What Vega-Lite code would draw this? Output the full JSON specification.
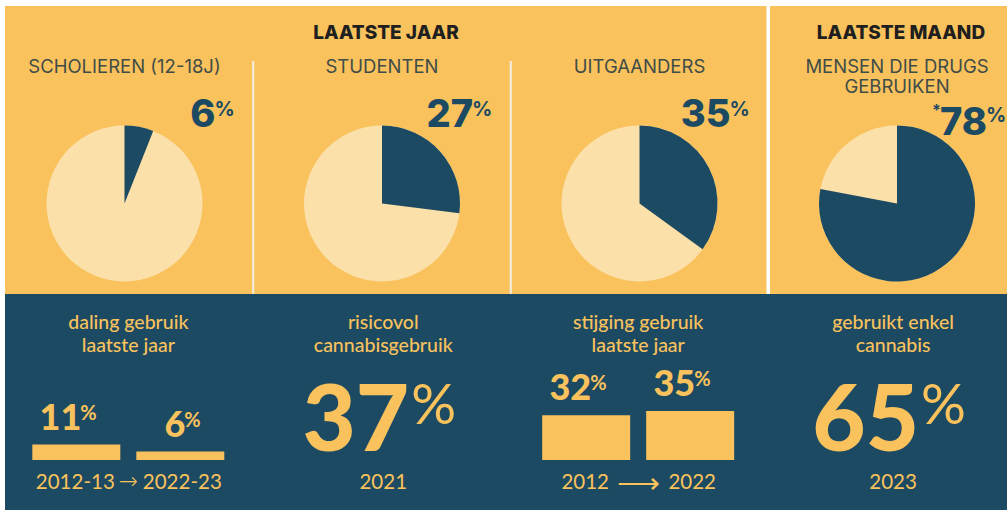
{
  "$schema": "https://vega.github.io/schema/vega-lite/v6.json",
  "background": "#FFFFFF",
  "padding": {"left": 5, "top": 4, "right": 0, "bottom": 0},
  "spacing": 0,
  "bounds": "flush",
  "config": {"view": {"stroke": null}},
  "datasets": {
    "pies": [
      {"panel": 1, "group": "SCHOLIEREN (12-18J)", "pct": 6},
      {"panel": 2, "group": "STUDENTEN", "pct": 27},
      {"panel": 3, "group": "UITGAANDERS", "pct": 35},
      {"panel": 4, "group": "MENSEN DIE DRUGS\nGEBRUIKEN", "pct": 78, "note": "*"}
    ],
    "headers": [
      {"panel": 2, "label": "LAATSTE JAAR"},
      {"panel": 4, "label": "LAATSTE MAAND"}
    ],
    "captions": [
      {"panel": 1, "caption": "daling gebruik\nlaatste jaar"},
      {"panel": 2, "caption": "risicovol\ncannabisgebruik"},
      {"panel": 3, "caption": "stijging gebruik\nlaatste jaar"},
      {"panel": 4, "caption": "gebruikt enkel\ncannabis"}
    ],
    "trends": [
      {"panel": 1, "order": 1, "year": "2012-13", "pct": 11},
      {"panel": 1, "order": 2, "year": "2022-23", "pct": 6},
      {"panel": 3, "order": 1, "year": "2012", "pct": 32},
      {"panel": 3, "order": 2, "year": "2022", "pct": 35}
    ],
    "arrows": [
      {"panel": 1, "arrow": "→"},
      {"panel": 3, "arrow": "⟶"}
    ],
    "big": [
      {"panel": 2, "pct": 37, "year": "2021"},
      {"panel": 4, "pct": 65, "year": "2023"}
    ]
  },
  "vconcat": [
    {
      "width": 1002,
      "height": 288,
      "view": {"fill": "#F9C25C", "stroke": null},
      "layer": [
        {
          "data": {"name": "pies"},
          "mark": {"type": "arc", "outerRadius": 78, "theta": 0, "theta2": 6.2832, "fill": "#FCE0A9", "y": 197.5},
          "encoding": {
            "x": {"field": "panel", "type": "quantitative", "stack": null, "scale": {"domain": [0.53592, 4.42718], "nice": false, "zero": false}, "axis": null}
          }
        },
        {
          "data": {"name": "pies"},
          "mark": {"type": "arc", "outerRadius": 78, "fill": "#1C4A62", "y": 197.5},
          "encoding": {
            "x": {"field": "panel", "type": "quantitative", "stack": null},
            "theta": {"field": "pct", "type": "quantitative", "stack": null, "scale": {"domain": [0, 100], "range": [0, 6.2832]}},
            "theta2": {"datum": 0}
          }
        },
        {
          "data": {"name": "pies"},
          "transform": [{"filter": "datum.panel < 4"}],
          "mark": {"type": "text", "align": "right", "baseline": "alphabetic", "dx": 91, "y": 121, "font": "Inter", "fontSize": 38, "fontWeight": 800, "fill": "#1C4A62"},
          "encoding": {"x": {"field": "panel", "type": "quantitative"}, "text": {"field": "pct", "type": "quantitative"}}
        },
        {
          "data": {"name": "pies"},
          "transform": [{"filter": "datum.panel == 4"}],
          "mark": {"type": "text", "align": "right", "baseline": "alphabetic", "dx": 90, "y": 129, "font": "Inter", "fontSize": 38, "fontWeight": 800, "fill": "#1C4A62"},
          "encoding": {"x": {"field": "panel", "type": "quantitative"}, "text": {"field": "pct", "type": "quantitative"}}
        },
        {
          "data": {"name": "pies"},
          "transform": [{"filter": "datum.panel < 4"}],
          "mark": {"type": "text", "align": "left", "baseline": "alphabetic", "dx": 90, "y": 110, "font": "Inter", "fontSize": 20, "fontWeight": 700, "fill": "#1C4A62"},
          "encoding": {"x": {"field": "panel", "type": "quantitative"}, "text": {"value": "%"}}
        },
        {
          "data": {"name": "pies"},
          "transform": [{"filter": "datum.panel == 4"}],
          "mark": {"type": "text", "align": "left", "baseline": "alphabetic", "dx": 89, "y": 116, "font": "Inter", "fontSize": 20, "fontWeight": 700, "fill": "#1C4A62"},
          "encoding": {"x": {"field": "panel", "type": "quantitative"}, "text": {"value": "%"}}
        },
        {
          "data": {"name": "pies"},
          "transform": [{"filter": "datum.note"}],
          "mark": {"type": "text", "align": "right", "baseline": "alphabetic", "dx": 44, "y": 110, "font": "Inter", "fontSize": 16, "fontWeight": 700, "fill": "#1C4A62"},
          "encoding": {"x": {"field": "panel", "type": "quantitative"}, "text": {"field": "note", "type": "nominal"}}
        },
        {
          "data": {"name": "headers"},
          "mark": {"type": "text", "align": "center", "baseline": "alphabetic", "dx": 4, "y": 33, "font": "Inter", "fontSize": 19, "fontWeight": 800, "fill": "#1F1F1F"},
          "encoding": {"x": {"field": "panel", "type": "quantitative"}, "text": {"field": "label", "type": "nominal"}}
        },
        {
          "data": {"name": "pies"},
          "mark": {"type": "text", "align": "center", "baseline": "alphabetic", "y": 66.7, "lineBreak": "\n", "lineHeight": 20, "font": "Inter", "fontSize": 18.5, "fontWeight": 400, "fill": "#3F4C48"},
          "encoding": {"x": {"field": "panel", "type": "quantitative"}, "text": {"field": "group", "type": "nominal"}}
        },
        {
          "data": {"values": [{}]},
          "mark": {"type": "rule", "stroke": "#F3EEE4", "strokeWidth": 2},
          "encoding": {"x": {"datum": 1.5, "type": "quantitative"}, "y": {"value": 55}, "y2": {"value": 288}}
        },
        {
          "data": {"values": [{}]},
          "mark": {"type": "rule", "stroke": "#F3EEE4", "strokeWidth": 2},
          "encoding": {"x": {"datum": 2.5, "type": "quantitative"}, "y": {"value": 55}, "y2": {"value": 288}}
        },
        {
          "data": {"values": [{}]},
          "mark": {"type": "rule", "stroke": "#FFFFFF", "strokeWidth": 3.5},
          "encoding": {"x": {"datum": 3.5, "type": "quantitative"}, "y": {"value": 0}, "y2": {"value": 288}}
        }
      ]
    },
    {
      "width": 1002,
      "height": 218,
      "view": {"fill": "#1C4A62", "stroke": null},
      "encoding": {
        "x": {"field": "panel", "type": "quantitative", "scale": {"domain": [0.53592, 4.42718], "nice": false, "zero": false}, "axis": null}
      },
      "layer": [
        {
          "data": {"name": "captions"},
          "mark": {"type": "text", "align": "center", "baseline": "alphabetic", "y": 35, "lineBreak": "\n", "lineHeight": 23, "font": "Lato", "fontSize": 19.5, "fontWeight": 500, "fill": "#F9C25C"},
          "encoding": {"text": {"field": "caption", "type": "nominal"}}
        },
        {
          "data": {"name": "trends"},
          "transform": [{"filter": "datum.order == 1"}],
          "mark": {"type": "bar", "width": 88, "xOffset": -52, "fill": "#F9C25C"},
          "encoding": {
            "y": {"field": "pct", "type": "quantitative", "scale": {"domain": [-37.143, 118.571], "nice": false, "zero": false}, "axis": null},
            "y2": {"datum": 0}
          }
        },
        {
          "data": {"name": "trends"},
          "transform": [{"filter": "datum.order == 2"}],
          "mark": {"type": "bar", "width": 88, "xOffset": 52, "fill": "#F9C25C"},
          "encoding": {
            "y": {"field": "pct", "type": "quantitative"},
            "y2": {"datum": 0}
          }
        },
        {
          "data": {"name": "trends"},
          "transform": [{"filter": "datum.order == 1"}],
          "mark": {"type": "text", "align": "right", "baseline": "alphabetic", "dx": -47, "dy": -15, "font": "Lato", "fontSize": 36, "fontWeight": 900, "fill": "#F9C25C"},
          "encoding": {"y": {"field": "pct", "type": "quantitative"}, "text": {"field": "pct", "type": "quantitative"}}
        },
        {
          "data": {"name": "trends"},
          "transform": [{"filter": "datum.order == 2"}],
          "mark": {"type": "text", "align": "right", "baseline": "alphabetic", "dx": 57, "dy": -15, "font": "Lato", "fontSize": 36, "fontWeight": 900, "fill": "#F9C25C"},
          "encoding": {"y": {"field": "pct", "type": "quantitative"}, "text": {"field": "pct", "type": "quantitative"}}
        },
        {
          "data": {"name": "trends"},
          "transform": [{"filter": "datum.order == 1"}],
          "mark": {"type": "text", "align": "left", "baseline": "alphabetic", "dx": -48, "dy": -25, "font": "Lato", "fontSize": 20, "fontWeight": 700, "fill": "#F9C25C"},
          "encoding": {"y": {"field": "pct", "type": "quantitative"}, "text": {"value": "%"}}
        },
        {
          "data": {"name": "trends"},
          "transform": [{"filter": "datum.order == 2"}],
          "mark": {"type": "text", "align": "left", "baseline": "alphabetic", "dx": 56, "dy": -25, "font": "Lato", "fontSize": 20, "fontWeight": 700, "fill": "#F9C25C"},
          "encoding": {"y": {"field": "pct", "type": "quantitative"}, "text": {"value": "%"}}
        },
        {
          "data": {"name": "trends"},
          "transform": [{"filter": "datum.order == 1"}],
          "mark": {"type": "text", "align": "center", "baseline": "alphabetic", "dx": -53, "dy": 29, "font": "Lato", "fontSize": 20.5, "fontWeight": 400, "fill": "#F9C25C"},
          "encoding": {"y": {"datum": 0}, "text": {"field": "year", "type": "nominal"}}
        },
        {
          "data": {"name": "trends"},
          "transform": [{"filter": "datum.order == 2"}],
          "mark": {"type": "text", "align": "center", "baseline": "alphabetic", "dx": 54, "dy": 29, "font": "Lato", "fontSize": 20.5, "fontWeight": 400, "fill": "#F9C25C"},
          "encoding": {"y": {"datum": 0}, "text": {"field": "year", "type": "nominal"}}
        },
        {
          "data": {"name": "arrows"},
          "transform": [{"filter": "datum.panel == 1"}],
          "mark": {"type": "text", "align": "center", "baseline": "alphabetic", "dy": 29, "font": "DejaVu Sans", "fontSize": 23, "fontWeight": 300, "fill": "#F9C25C"},
          "encoding": {"y": {"datum": 0}, "text": {"field": "arrow", "type": "nominal"}}
        },
        {
          "data": {"name": "arrows"},
          "transform": [{"filter": "datum.panel == 3"}],
          "mark": {"type": "text", "align": "center", "baseline": "alphabetic", "dy": 33, "font": "DejaVu Sans", "fontSize": 30, "fontWeight": 200, "fill": "#F9C25C"},
          "encoding": {"y": {"datum": 0}, "text": {"field": "arrow", "type": "nominal"}}
        },
        {
          "data": {"name": "big"},
          "mark": {"type": "text", "align": "right", "baseline": "alphabetic", "dx": 26, "y": 157, "font": "Lato", "fontSize": 92, "fontWeight": 900, "fill": "#F9C25C"},
          "encoding": {"text": {"field": "pct", "type": "quantitative"}}
        },
        {
          "data": {"name": "big"},
          "mark": {"type": "text", "align": "left", "baseline": "alphabetic", "dx": 28, "y": 130, "font": "Lato", "fontSize": 56, "fontWeight": 400, "fill": "#F9C25C"},
          "encoding": {"text": {"value": "%"}}
        },
        {
          "data": {"name": "big"},
          "mark": {"type": "text", "align": "center", "baseline": "alphabetic", "y": 195, "font": "Lato", "fontSize": 20.5, "fontWeight": 400, "fill": "#F9C25C"},
          "encoding": {"text": {"field": "year", "type": "nominal"}}
        },
        {
          "data": {"values": [{}]},
          "mark": {"type": "rule", "stroke": "#F3EEE4", "strokeWidth": 2},
          "encoding": {"x": {"datum": 1.5}, "y": {"value": 0}, "y2": {"value": 201}}
        },
        {
          "data": {"values": [{}]},
          "mark": {"type": "rule", "stroke": "#F3EEE4", "strokeWidth": 2},
          "encoding": {"x": {"datum": 2.5}, "y": {"value": 0}, "y2": {"value": 201}}
        },
        {
          "data": {"values": [{}]},
          "mark": {"type": "rule", "stroke": "#FFFFFF", "strokeWidth": 3.5},
          "encoding": {"x": {"datum": 3.5}, "y": {"value": 0}, "y2": {"value": 218}}
        }
      ]
    }
  ]
}
